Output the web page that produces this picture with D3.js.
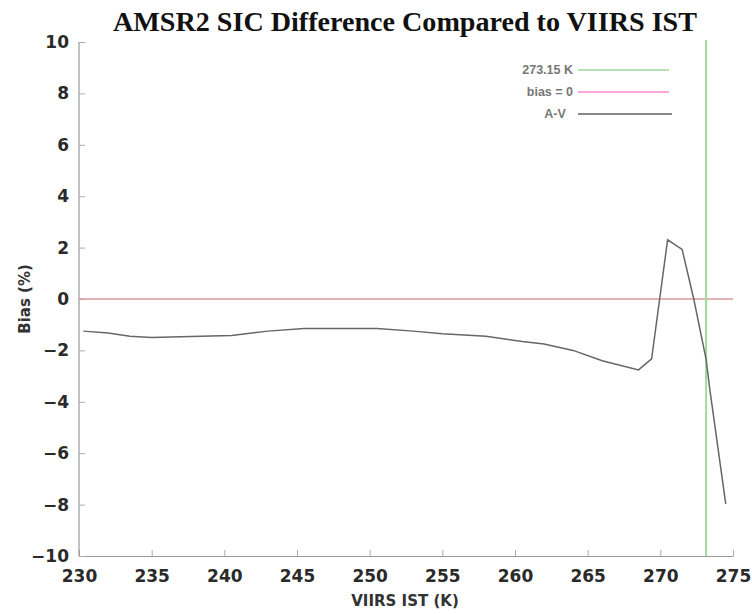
<!DOCTYPE html>
<html>
<head>
<meta charset="utf-8">
<script src="https://cdn.jsdelivr.net/npm/d3@7"></script>
<style>
  body { margin: 0; background: #fff; }
  svg { display: block; }
  .tick text { font-family: "DejaVu Sans", sans-serif; font-weight: bold; font-size: 17px; fill: #2a2a2a; }
  .legend text { font-family: "Liberation Sans", Arial, sans-serif; font-weight: bold; font-size: 12.5px; fill: #777; }
</style>
</head>
<body>
<svg id="chart" width="752" height="614"></svg>
<script>
// VIIRS IST (K) vs bias (%) of AMSR2 minus VIIRS
const ist = [230.3, 232, 233.5, 235, 237, 240.5, 243, 245.5, 250.5, 253, 255, 258, 260.5, 262, 264, 266, 268.5, 269.4, 270.5, 271.5, 272.3, 273.15, 273.4, 274.5];
const bias = [-1.25, -1.32, -1.45, -1.5, -1.47, -1.42, -1.25, -1.15, -1.15, -1.25, -1.35, -1.45, -1.65, -1.75, -2.0, -2.4, -2.76, -2.33, 2.3, 1.93, 0, -2.35, -3.5, -7.97];
const xTicks = [230, 235, 240, 245, 250, 255, 260, 265, 270, 275];
const yTicks = [-10, -8, -6, -4, -2, 0, 2, 4, 6, 8, 10];
const freezing = 273.15;
const legendLabels = ["273.15 K", "bias = 0", "A-V"];
const legendColors = ["#9ed99e", "#ff88d0", "#888"];

const svg = d3.select("#chart");
const margin = {left: 79, right: 19, top: 42, bottom: 58};
const W = 752, H = 614;

const x = d3.scaleLinear().domain([230, 275]).range([margin.left, W - margin.right]);
const y = d3.scaleLinear().domain([-10, 10]).range([H - margin.bottom, margin.top]);

const fmt = d => d < 0 ? "\u2212" + Math.abs(d) : String(d);

// axes, ticks point inward
let gx = svg.append("g").attr("transform", `translate(0,${y(-10)})`)
    .call(d3.axisBottom(x).tickValues(xTicks).tickSize(-6).tickPadding(14).tickSizeOuter(0));
let gy = svg.append("g").attr("transform", `translate(${x(230)},0)`)
    .call(d3.axisLeft(y).tickValues(yTicks).tickSize(-6).tickPadding(10).tickFormat(fmt).tickSizeOuter(0));
[gx, gy].forEach(g => {
    g.select(".domain").attr("stroke", "#999").attr("stroke-width", 1.2);
    g.selectAll(".tick line").attr("stroke", "#aaa");
});
gy.select(".domain").attr("d", `M0,${y(-10)}V${y(10)}`);

// reference lines
svg.append("line")
    .attr("x1", x(230)).attr("x2", x(275))
    .attr("y1", y(0)).attr("y2", y(0))
    .attr("stroke", "#d99a9a").attr("stroke-width", 1.6);
svg.append("line")
    .attr("x1", x(freezing)).attr("x2", x(freezing))
    .attr("y1", y(10) - 2).attr("y2", y(-10))
    .attr("stroke", "#9ed99e").attr("stroke-width", 2);

// A-V bias line
let line = d3.line().x((d, i) => x(d)).y((d, i) => y(bias[i]));
svg.append("path")
    .attr("d", line(ist))
    .attr("fill", "none").attr("stroke", "#666").attr("stroke-width", 1.5);

// legend
let lg = svg.append("g").attr("class", "legend");
legendLabels.forEach((t, i) => {
    let yy = 70 + i * 22;
    lg.append("text").attr("x", i === 2 ? 555 : 573).attr("y", yy + 4)
        .attr("text-anchor", i === 2 ? "middle" : "end").text(t);
    lg.append("line").attr("x1", 578).attr("x2", i === 2 ? 672 : 669)
        .attr("y1", yy).attr("y2", yy)
        .attr("stroke", legendColors[i]).attr("stroke-width", i === 2 ? 2 : 1.5);
});

// titles
svg.append("text").attr("x", 405).attr("y", 31).attr("text-anchor", "middle")
    .style("font-family", "'Liberation Serif', 'Times New Roman', serif")
    .style("font-weight", "bold").style("font-size", "28px").style("fill", "#111")
    .attr("textLength", 584).attr("lengthAdjust", "spacingAndGlyphs")
    .text("AMSR2 SIC Difference Compared to VIIRS IST");
svg.append("text").attr("x", 405).attr("y", 606).attr("text-anchor", "middle")
    .style("font-family", "'DejaVu Sans', sans-serif").style("font-weight", "bold")
    .style("font-size", "15px").style("fill", "#333")
    .text("VIIRS IST (K)");
svg.append("text").attr("transform", `translate(30,${y(0)}) rotate(-90)`)
    .attr("text-anchor", "middle")
    .style("font-family", "'DejaVu Sans', sans-serif").style("font-weight", "bold")
    .style("font-size", "15px").style("fill", "#333")
    .text("Bias (%)");
</script>
</body>
</html>
